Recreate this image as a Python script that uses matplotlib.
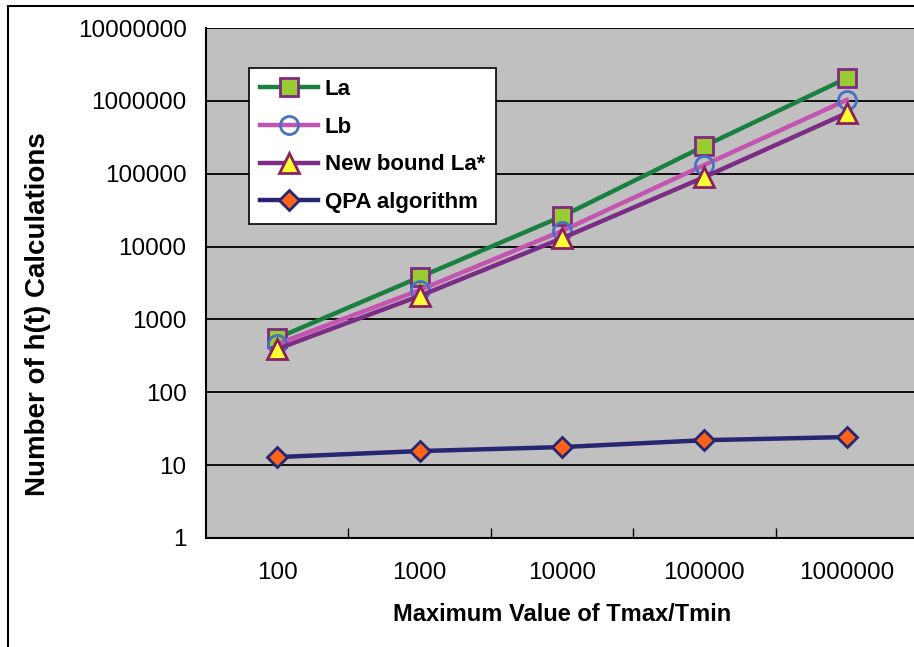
import matplotlib.pyplot as plt
import numpy as np
from matplotlib.patches import Rectangle

# data
categories = ['100', '1000', '10000', '100000', '1000000']
la = [556, 3800, 26000, 240000, 2050000]
lb = [460, 2530, 16400, 132000, 1030000]
la_new = [393, 2100, 13000, 90000, 680000]
qpa = [12.9, 15.6, 17.7, 22.0, 24.3]
yticks = [1, 10, 100, 1000, 10000, 100000, 1000000, 10000000]

plt.rcParams['font.family'] = ['Liberation Sans', 'DejaVu Sans']

W, H = 914, 647
fig = plt.figure(figsize=(W / 100, H / 100), dpi=100)

# outer chart frame (cropped on the right and bottom)
fig.patches.append(Rectangle((8 / W, -0.1), 1.2, 1 - 6 / H + 0.1,
                             transform=fig.transFigure, fill=False,
                             edgecolor='black', linewidth=1.5))

left, top, bottom, right = 206, 28, 538, 918
ax = fig.add_axes([left / W, 1 - bottom / H, (right - left) / W, (bottom - top) / H])
ax.set_facecolor('#C0C0C0')

x = np.arange(len(categories))

ax.plot(x, la, color='#1A8040', linewidth=3.2, marker='s', markersize=12.5,
        markerfacecolor='#99CC33', markeredgecolor='#7F2A80', markeredgewidth=2,
        label='La', zorder=4)
ax.plot(x, lb, color='#C355B0', linewidth=3.2, marker='o', markersize=13,
        markerfacecolor='none', markeredgecolor='#4472C4', markeredgewidth=2,
        label='Lb', zorder=5)
ax.plot(x, la_new, color='#7B2C84', linewidth=3.2, marker='^', markersize=14,
        markerfacecolor='#FFFF33', markeredgecolor='#8B2060', markeredgewidth=2,
        label='New bound La*', zorder=6)
ax.plot(x, qpa, color='#262673', linewidth=3.2, marker='D', markersize=10.5,
        markerfacecolor='#FF6319', markeredgecolor='#262673', markeredgewidth=2,
        label='QPA algorithm', zorder=4)

ax.set_yscale('log')
ax.set_ylim(1, 10000000)
ax.set_xlim(-0.5, len(categories) - 0.5)
ax.set_yticks(yticks)
ax.set_yticklabels([str(v) for v in yticks])
ax.yaxis.set_minor_locator(plt.NullLocator())
ax.set_xticks(x)
ax.set_xticklabels(categories)
ax.set_xticks(np.arange(0.5, len(categories) - 0.5), minor=True)
ax.tick_params(axis='x', which='major', length=0, labelsize=17.5, pad=17)
ax.tick_params(axis='x', which='minor', direction='in', length=7, width=1)
ax.tick_params(axis='y', which='major', length=0, labelsize=17.5, pad=14)

ax.grid(axis='y', which='major', color='black', linewidth=1.3)
ax.set_axisbelow(True)
for side in ['top', 'right']:
    ax.spines[side].set_visible(False)
ax.spines['left'].set_linewidth(1.5)
ax.spines['bottom'].set_linewidth(1.5)

ax.set_xlabel('Maximum Value of Tmax/Tmin', fontsize=17, fontweight='bold', labelpad=14)
fig.text(38 / W, 1 - 314 / H, 'Number of h(t) Calculations', rotation=90,
         fontsize=20, fontweight='bold', ha='center', va='center')

leg = ax.legend(loc='upper left', bbox_to_anchor=((249 - left) / (right - left), 1 - (68 - top) / (bottom - top)),
                frameon=True, fancybox=False, framealpha=1, edgecolor='black',
                prop={'weight': 'bold', 'size': 16}, handlelength=2.6,
                handletextpad=0.3, labelspacing=0.75, borderpad=0.5, borderaxespad=0)
leg.get_frame().set_linewidth(1.2)

fig.savefig('out.png', dpi=100)
